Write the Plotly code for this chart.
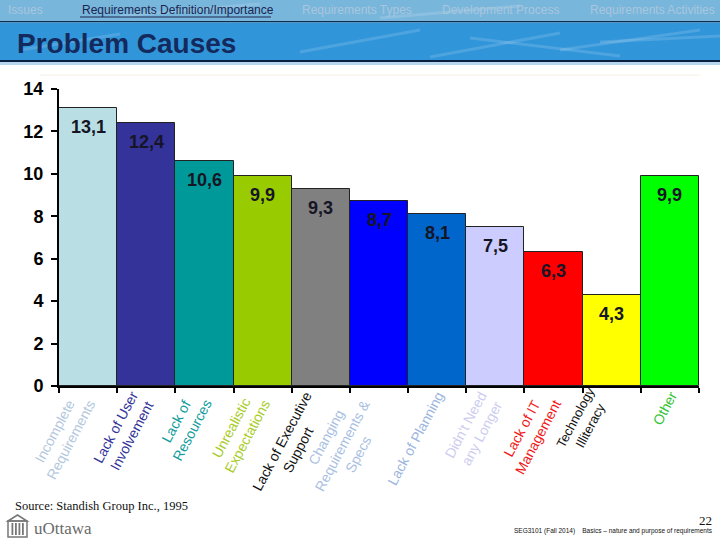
import plotly.graph_objects as go

# ---------------- data ----------------
categories = ["Incomplete Requirements", "Lack of User Involvement", "Lack of Resources",
              "Unrealistic Expectations", "Lack of Executive Support",
              "Changing Requirements & Specs", "Lack of Planning", "Didn't Need any Longer",
              "Lack of IT Management", "Technology Illiteracy", "Other"]
values = [13.1, 12.4, 10.6, 9.9, 9.3, 8.7, 8.1, 7.5, 6.3, 4.3, 9.9]
value_labels = ["13,1", "12,4", "10,6", "9,9", "9,3", "8,7", "8,1", "7,5", "6,3", "4,3", "9,9"]
axis_labels = ["Incomplete<br>Requirements", "Lack of User<br>Involvement", "Lack of<br>Resources",
               "Unrealistic<br>Expectations", "Lack of Executive<br>Support",
               "Changing<br>Requirements &<br>Specs", "Lack of Planning", "Didn't Need<br>any Longer",
               "Lack of IT<br>Management", "Technology<br>Illiteracy", "Other"]
y_ticks = [0, 2, 4, 6, 8, 10, 12, 14]

# ---------------- styles ----------------
bar_colors = ["#b9dfe4", "#333399", "#009999", "#99cc00", "#808080", "#0000ff",
              "#0066cc", "#ccccff", "#ff0000", "#ffff00", "#00ff00"]
label_colors = ["#b3c8de", "#333399", "#109c9c", "#a8cc28", "#111111", "#a9bfe2",
                "#9db6e0", "#cdcdf0", "#f01818", "#111111", "#33c433"]

W, H = 720, 540
L, R, T, B = 59, 699, 89, 386


def PX(x):
    return (x - L) / (R - L)


def PY(y):
    return (B - y) / (B - T)


fig = go.Figure()
fig.add_trace(go.Bar(
    x=categories, y=values,
    marker=dict(color=bar_colors, line=dict(color="#222222", width=1)),
    hoverinfo="skip",
))

annotations = []
for c, v, t in zip(categories, values, value_labels):
    annotations.append(dict(
        x=c, y=v, xref="x", yref="y", text=t, showarrow=False,
        yanchor="middle", xanchor="center", yshift=-19,
        font=dict(family="Liberation Sans, Arial", size=18, color="#151525", weight="bold"),
    ))

for c, t, col in zip(categories, axis_labels, label_colors):
    tech = c == "Technology Illiteracy"
    annotations.append(dict(
        x=c, y=0, xref="x", yref="paper", text=t, showarrow=False,
        textangle=-62, xanchor="right", yanchor="top",
        xshift=4 if tech else 13, yshift=4 if tech else 0,
        align="center",
        font=dict(family="Liberation Sans, Arial", size=13 if tech else 14, color=col),
    ))

# header texts
nav = [("Issues", 6, "#a9c6dc"),
       ("Requirements Definition/Importance", 80, "#1a2550"),
       ("Requirements Types", 300, "#a9c6dc"),
       ("Development Process", 440, "#a9c6dc"),
       ("Requirements Activities", 588, "#a9c6dc")]
for txt, x, col in nav:
    annotations.append(dict(
        x=PX(x), y=PY(10), xref="paper", yref="paper", text=txt, showarrow=False,
        xanchor="left", yanchor="middle",
        font=dict(family="Liberation Sans Narrow, Arial Narrow, Liberation Sans", size=12, color=col),
    ))
annotations.append(dict(
    x=PX(15), y=PY(43), xref="paper", yref="paper", text="Problem Causes", showarrow=False,
    xanchor="left", yanchor="middle",
    font=dict(family="Liberation Sans, Arial", size=28, color="#142a5c", weight="bold"),
))

# footer texts
annotations.append(dict(
    x=PX(13), y=PY(506), xref="paper", yref="paper", text="Source: Standish Group Inc., 1995",
    showarrow=False, xanchor="left", yanchor="middle",
    font=dict(family="Liberation Serif, Times New Roman", size=12.5, color="#111111"),
))
annotations.append(dict(
    x=PX(32), y=PY(528), xref="paper", yref="paper", text="uOttawa",
    showarrow=False, xanchor="left", yanchor="middle",
    font=dict(family="Liberation Serif, Times New Roman", size=17, color="#6a6a6a"),
))
annotations.append(dict(
    x=PX(714), y=PY(520), xref="paper", yref="paper", text="22",
    showarrow=False, xanchor="right", yanchor="middle",
    font=dict(family="Liberation Serif, Times New Roman", size=13, color="#111111"),
))
annotations.append(dict(
    x=PX(715), y=PY(531), xref="paper", yref="paper",
    text="SEG3101 (Fall 2014)&nbsp;&nbsp;&nbsp; Basics – nature and purpose of requirements",
    showarrow=False, xanchor="right", yanchor="middle",
    font=dict(family="Liberation Sans, Arial", size=6.5, color="#111111"),
))

shapes = []


def rect(x0, y0, x1, y1, color, **kw):
    d = dict(type="rect", xref="paper", yref="paper", x0=PX(x0), x1=PX(x1), y0=PY(y1), y1=PY(y0),
             fillcolor=color, line=dict(width=0), layer="below")
    d.update(kw)
    return d


shapes.append(rect(0, 0, 720, 21, "#79b6dc"))
shapes.append(rect(0, 21, 720, 22.5, "#0d2b4e"))
shapes.append(rect(0, 22.5, 720, 60, "#3195da"))
shapes.append(rect(0, 60, 720, 62, "#0a1f3f"))
shapes.append(rect(0, 62, 720, 65, "#b5d6ec"))
# underline of active nav item
shapes.append(dict(type="line", xref="paper", yref="paper", x0=PX(80), x1=PX(271),
                   y0=PY(17), y1=PY(17), line=dict(color="#1a2550", width=1)))
# faint separator under header
shapes.append(dict(type="line", xref="paper", yref="paper", x0=PX(40), x1=PX(700),
                   y0=PY(75), y1=PY(75), line=dict(color="#f6efe4", width=1)))

# soft water texture streaks
streaks = [(20, 50, 120, 34), (300, 52, 420, 30), (430, 57, 560, 33),
           (560, 50, 700, 30), (600, 42, 720, 36), (470, 38, 620, 56),
           (120, 16, 260, 4), (380, 18, 520, 6)]
for x0, y0, x1, y1 in streaks:
    shapes.append(dict(type="line", xref="paper", yref="paper", x0=PX(x0), x1=PX(x1),
                       y0=PY(y0), y1=PY(y1), line=dict(color="rgba(255,255,255,0.14)", width=3),
                       layer="below"))


# uOttawa logo icon
def path(pts, close=True):
    s = "M " + " L ".join(f"{PX(x):.5f},{PY(y):.5f}" for x, y in pts)
    return s + (" Z" if close else "")


shapes.append(dict(type="path", xref="paper", yref="paper",
                   path=path([(8, 521), (17.5, 515), (27, 521)]),
                   line=dict(color="#777777", width=1.5), fillcolor="rgba(0,0,0,0)"))
shapes.append(dict(type="path", xref="paper", yref="paper",
                   path=path([(8, 521), (27, 521), (27, 537), (8, 537)]),
                   line=dict(color="#777777", width=1.5), fillcolor="rgba(0,0,0,0)"))
for cx in [11.5, 15, 18.5, 22]:
    shapes.append(dict(type="rect", xref="paper", yref="paper", x0=PX(cx), x1=PX(cx + 1.8),
                       y0=PY(535), y1=PY(523), fillcolor="#777777", line=dict(width=0)))

fig.update_layout(
    width=W, height=H,
    margin=dict(l=L, r=W - R, t=T, b=H - B, pad=0),
    paper_bgcolor="white", plot_bgcolor="white",
    bargap=0, showlegend=False,
    annotations=annotations, shapes=shapes,
    xaxis=dict(type="category", range=[-0.5, len(categories) - 0.5], autorange=False,
               tickson="boundaries", ticks="outside", ticklen=5, tickwidth=1.5,
               tickcolor="#000000", showticklabels=False, showline=True, linecolor="#000000",
               linewidth=2, showgrid=False, zeroline=False, fixedrange=True),
    yaxis=dict(range=[0, 14], autorange=False, tickvals=y_ticks, ticks="outside", ticklen=6,
               tickwidth=1.5, tickcolor="#000000", showline=True, linecolor="#000000", linewidth=2,
               showgrid=False, zeroline=False, ticklabelstandoff=4,
               tickfont=dict(family="Liberation Sans, Arial", size=18, color="#000000", weight="bold"),
               fixedrange=True),
)

fig.write_html("out.html", config={"displayModeBar": False},
               post_script="document.body.style.margin='0px';document.body.style.padding='0px';")
